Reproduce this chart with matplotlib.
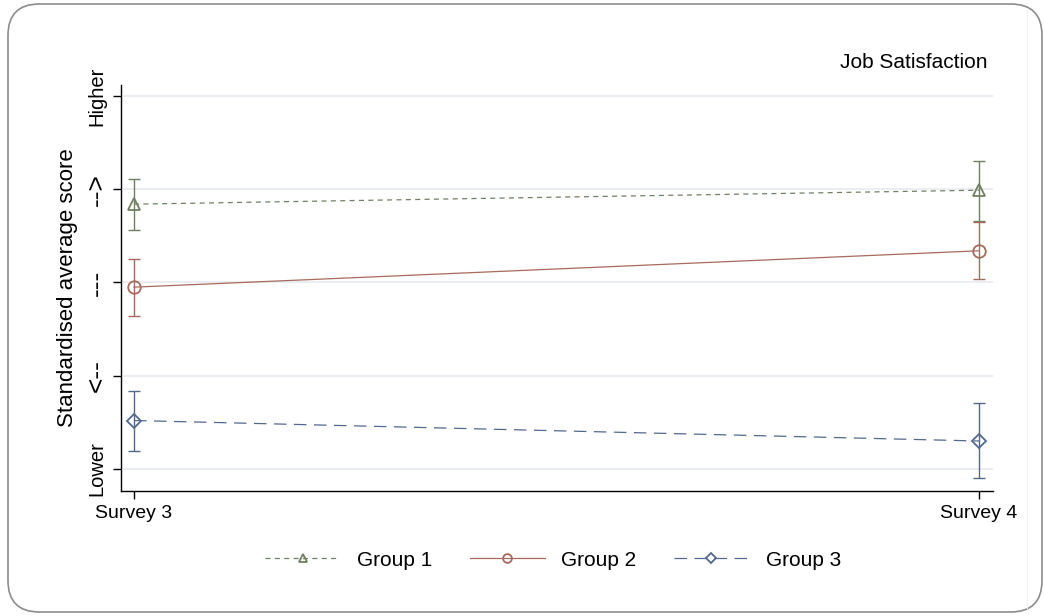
import matplotlib
matplotlib.use("Agg")
import matplotlib.pyplot as plt
from matplotlib.patches import FancyBboxPatch
from matplotlib.lines import Line2D
import numpy as np

plt.rcParams['font.family'] = ['Liberation Sans', 'DejaVu Sans']

# Survey waves and y-axis scale labels
waves = ["Survey 3", "Survey 4"]
scale_labels = ["Lower", "<--", "---", "-->", "Higher"]
groups = ["Group 1", "Group 2", "Group 3"]

# Standardised mean scores with confidence bounds per wave
g1_mean = [2.84, 2.99]
g1_low = [2.56, 2.66]
g1_high = [3.11, 3.30]

g2_mean = [1.95, 2.34]
g2_low = [1.64, 2.04]
g2_high = [2.25, 2.65]

g3_mean = [0.52, 0.30]
g3_low = [0.19, -0.10]
g3_high = [0.84, 0.71]

colors = ["#6f8060", "#a86a5c", "#52698d"]
markers = ["^", "o", "D"]
msizes = [8, 9, 7.5]
dashes = [(0, (4, 3.5)), "-", (0, (10, 6))]

fig = plt.figure(figsize=(10.44, 6.16), dpi=100)
fig.patch.set_facecolor("white")

# Rounded outer frame
frame = FancyBboxPatch((8 / 1044, 4 / 616), (1034 / 1044), (608 / 616),
                       boxstyle="round,pad=0,rounding_size=0.03",
                       transform=fig.transFigure, facecolor="none",
                       edgecolor="#8c8c8c", linewidth=1.2, zorder=0,
                       mutation_aspect=1044 / 616)
fig.patches.append(frame)
fig.add_artist(Line2D([1027 / 1044] * 2, [8 / 616, 608 / 616],
                      transform=fig.transFigure, color="#f2f2f2", lw=0.8))

ax = fig.add_axes([121 / 1044, 1 - 491 / 616, 872 / 1044, 406 / 616])
x = np.arange(len(waves))

series = [(g1_mean, g1_low, g1_high), (g2_mean, g2_low, g2_high),
          (g3_mean, g3_low, g3_high)]
handles = []
for (m, lo, hi), c, mk, ms, ls, name in zip(series, colors, markers, msizes,
                                           dashes, groups):
    m = np.array(m)
    err = np.vstack([m - np.array(lo), np.array(hi) - m])
    ax.errorbar(x, m, yerr=err, fmt="none", ecolor=c, elinewidth=1.0,
                capsize=4.5, capthick=1.0, zorder=3)
    ln, = ax.plot(x, m, linestyle=ls, color=c, lw=0.9, marker=mk,
                  markersize=ms, markerfacecolor="none",
                  markeredgecolor=c, markeredgewidth=1.3, zorder=4,
                  label=name)
    handles.append(ln)

ax.set_xlim(-0.0154, 1.0166)
ax.set_ylim(-0.236, 4.118)
ax.tick_params(axis="both", direction="out", length=6, width=1,
               colors="black", pad=4)
ax.tick_params(axis="y", pad=11.5)
ax.set_xticks(x)
ax.set_xticklabels(waves, fontsize=14)
ax.set_yticks(range(len(scale_labels)))
ax.set_yticklabels(scale_labels, fontsize=14.5, rotation=90,
                   ha="center", va="center", rotation_mode="anchor")
# Arrow-style scale labels are drawn a little larger
for lbl in ax.get_yticklabels():
    if lbl.get_text() in ("<--", "---", "-->"):
        lbl.set_fontsize(19)

ax.grid(axis="y", color="#e6ebf0", lw=1.2, zorder=0)
ax.set_axisbelow(True)
for s in ["top", "right"]:
    ax.spines[s].set_visible(False)
for s in ["left", "bottom"]:
    ax.spines[s].set_linewidth(1.0)

ax.set_ylabel("Standardised average score", fontsize=16)
ax.yaxis.set_label_coords(-0.049, 0.5)

fig.text(988 / 1044, 1 - 62 / 616, "Job Satisfaction", fontsize=15,
         ha="right", va="center")

fig.legend(handles=handles, loc="center", bbox_to_anchor=(553 / 1044, 1 - 560 / 616),
           ncol=3, frameon=False, fontsize=15, handlelength=3.6,
           handletextpad=0.8, columnspacing=1.8, markerscale=0.7)

fig.savefig("out.png", dpi=100)
